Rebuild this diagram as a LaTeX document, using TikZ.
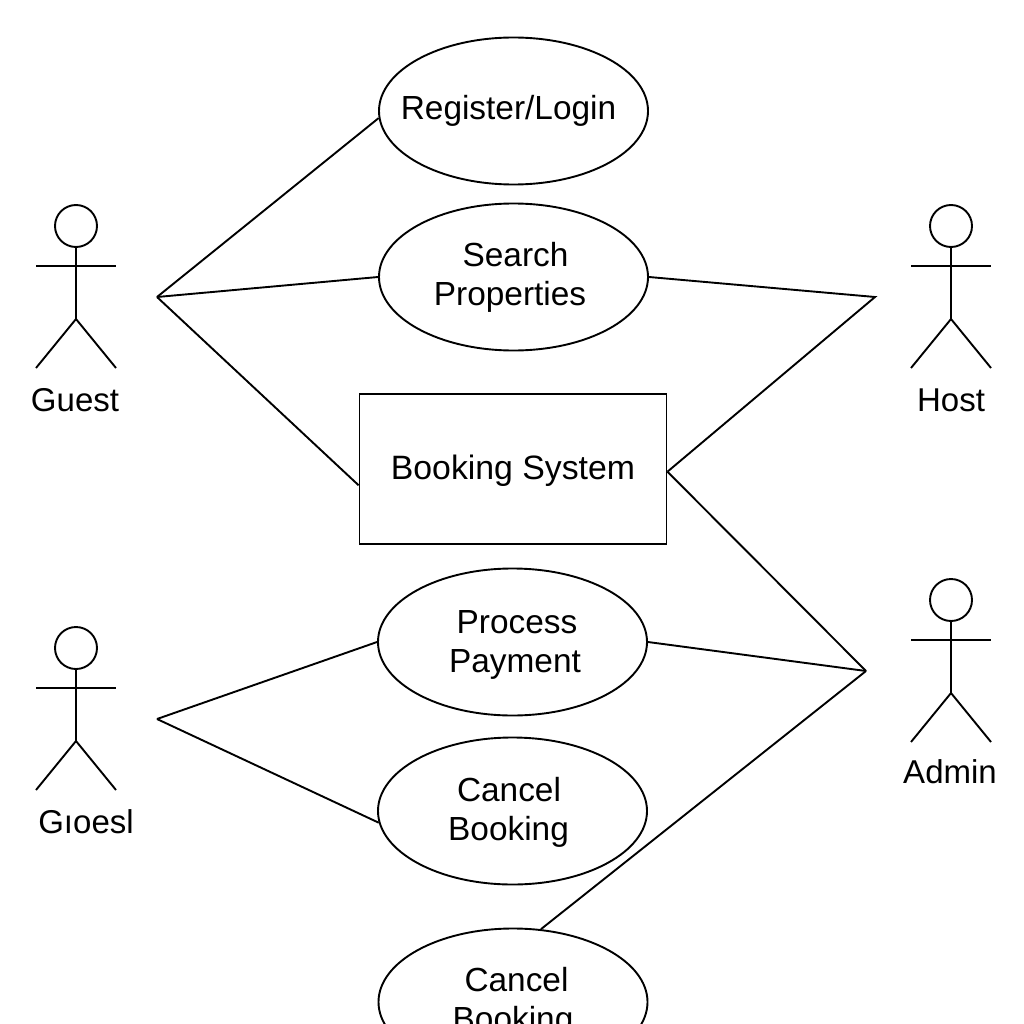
\documentclass[tikz,border=0pt]{standalone}
\usepackage{fontspec}
\setmainfont{Liberation Sans}
\usetikzlibrary{shapes,positioning,calc}
\begin{document}
\begin{tikzpicture}[x=1pt,y=-1pt,line width=1.9pt]

	\tikzstyle{usecase}=[draw, ellipse, inner xsep = -18pt, inner ysep = 0pt, minimum width = 269pt, minimum height = 147pt, align=center, font=\fontsize{33.4}{39}\selectfont];
	\tikzstyle{sysrect}=[draw, rectangle, inner sep = 0pt, minimum width = 307pt, minimum height = 150pt, text height = 28pt, text depth = 7pt, font=\fontsize{33.8}{39}\selectfont];
	\tikzstyle{actorlabel}=[inner sep = 0pt, font=\fontsize{33}{39}\selectfont];

	% one stick figure, #1 = name prefix, at head centre
	\newcommand{\stickman}[3]{
		\node (#1_head) at (#2,#3) [draw, circle, inner sep = 0pt, minimum size = 42pt]{};
		\coordinate (#1_hip) at (#2,#3+93);
		\coordinate (#1_la) at (#2-40,#3+40);
		\coordinate (#1_ra) at (#2+40,#3+40);
		\coordinate (#1_lf) at (#2-40,#3+142);
		\coordinate (#1_rf) at (#2+40,#3+142);
		\draw (#1_head) -- (#1_hip);
		\draw (#1_la) -- (#1_ra);
		\draw (#1_lf) -- (#1_hip) -- (#1_rf);
	}

	\clip (0,0) rectangle (1024,1024);

	\stickman{guest_a}{76}{226}
	\stickman{guest_b}{76}{648}
	\stickman{host}{951}{226}
	\stickman{admin}{951}{600}

	\node (guest_a_label) at (75,400) [actorlabel]{Guest};
	\node (guest_b_label) at (86,822) [actorlabel]{Gıoesl};
	\node (host_label) at (951,400) [actorlabel]{Host};
	\node (admin_label) at (950,772) [actorlabel]{Admin};

	\node (register) at (513.5,111) [usecase]{\hspace*{-10pt}Register/Login};
	\node (search) at (513.5,277) [usecase]{\hspace*{4pt}Search\\\hspace*{-7pt}Properties};
	\node (booking) at (513,469) [sysrect]{Booking System};
	\node (payment) at (512.5,642) [usecase]{\rule{0pt}{28pt}\hspace*{9pt}Process\\\hspace*{5pt}Payment};
	\node (cancel_a) at (512.5,811) [usecase]{\rule{0pt}{27pt}\hspace*{-7pt}Cancel\\\hspace*{-8pt}Booking};
	\node (cancel_b) at (513,1002) [usecase]{\hspace*{7pt}Cancel\\Booking};

	\coordinate (guest_a_hub) at (157,297);
	\coordinate (guest_b_hub) at (157,719);
	\coordinate (host_hub) at (875,297);
	\coordinate (admin_hub) at (866,671);

	\draw (guest_a_hub) -- (register.183);
	\draw (guest_a_hub) -- (search.west);
	\draw (guest_a_hub) -- (booking.186);
	\draw (search.east) -- (host_hub) -- (booking.-1);
	\draw (booking.-1) -- (admin_hub);
	\draw (payment.east) -- (admin_hub);
	\draw (admin_hub) -- (cancel_b.69);
	\draw (guest_b_hub) -- (payment.west);
	\draw (guest_b_hub) -- (cancel_a.185.5);

\end{tikzpicture}
\end{document}
